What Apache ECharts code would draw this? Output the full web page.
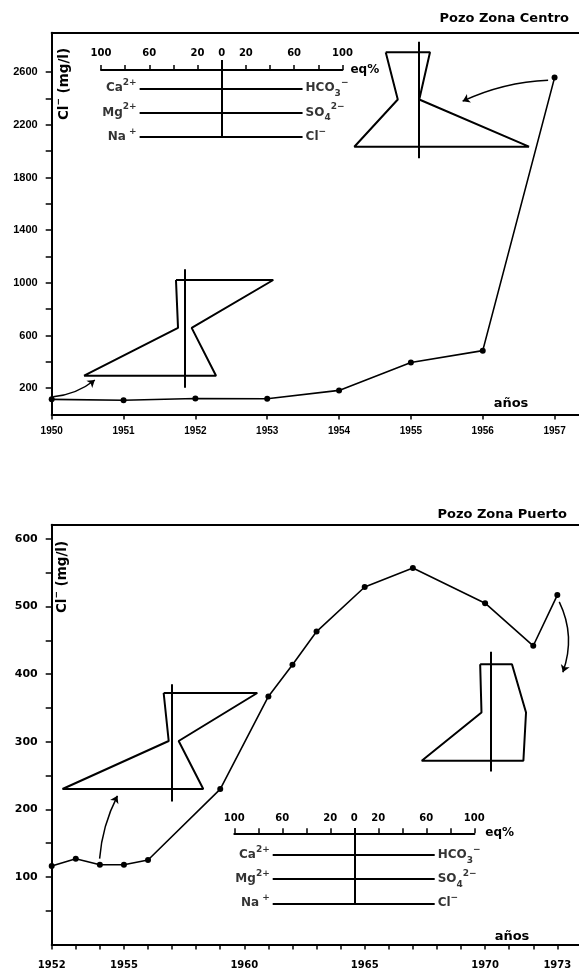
<!DOCTYPE html>
<html>
<head>
<meta charset="utf-8">
<script src="https://cdn.jsdelivr.net/npm/echarts@6/dist/echarts.min.js"></script>
<style>
html,body{margin:0;padding:0;background:#fff;}
#chart{width:579px;height:971px;}
</style>
</head>
<body>
<div id="chart"></div>
<script>
// ---------- data ----------
const centroYears = [1950, 1951, 1952, 1953, 1954, 1955, 1956, 1957];
const centroCl = [115, 108, 121, 120, 183, 395, 485, 2559];
const puertoYears = [1952, 1953, 1954, 1955, 1956, 1959, 1961, 1962, 1963, 1965, 1967, 1970, 1972, 1973];
const puertoCl = [116, 127, 118, 118, 125, 230, 367, 414, 463, 529, 557, 505, 442, 517];

const centroXTicks = [1950, 1951, 1952, 1953, 1954, 1955, 1956, 1957];
const centroYTicks = [200, 400, 600, 800, 1000, 1200, 1400, 1600, 1800, 2000, 2200, 2400, 2600];
const centroYLabels = [200, 600, 1000, 1400, 1800, 2200, 2600];
const puertoXTicks = [1952, 1953, 1954, 1955, 1956, 1957, 1958, 1959, 1960, 1961, 1962, 1963, 1964, 1965, 1966, 1967, 1968, 1969, 1970, 1971, 1972, 1973];
const puertoXLabels = [1952, 1955, 1960, 1965, 1970, 1973];
const puertoYTicks = [50, 100, 150, 200, 250, 300, 350, 400, 450, 500, 550, 600];
const puertoYLabels = [100, 200, 300, 400, 500, 600];
const eqLabels = [-100, -60, -20, 0, 20, 60, 100];

// Stiff diagrams (eq %): cations Ca, Mg, Na ; anions HCO3, SO4, Cl
const stiffCentroA_cat = [27, 17, 53];      // upper-right diagram (1957)
const stiffCentroA_an = [9.7, 0.8, 91.7];
const stiffCentroB_cat = [6.9, 5.2, 83];    // lower-left diagram (1950)
const stiffCentroB_an = [73.7, 6.1, 26.3];
const stiffPuertoA_cat = [6.7, 2.5, 91];    // left diagram (1954)
const stiffPuertoA_an = [71.3, 5.8, 26.3];
const stiffPuertoB_cat = [12.5, 11, 79];    // right diagram (1973)
const stiffPuertoB_an = [23.7, 39.7, 36.7];

const cationLabels = ['{m|Ca}{sup|2+}', '{m|Mg}{sup|2+}', '{m|Na}{sup| +}'];
const anionLabels = ['{m|HCO}{sub|3}{sup|−}', '{m|SO}{sub|4}{sup|2−}', '{m|Cl}{sup|−}'];
const legendRowExtent = [-68, 67];

// arrows [from, to, curveness] in data units of each panel
const centroArrows = [
  [[1956.91, 2539], [1955.72, 2380], -0.1],
  [[1950.02, 135], [1950.60, 262], -0.15]
];
const puertoArrows = [
  [[1953.99, 127], [1954.73, 220], 0.1],
  [[1973.08, 507], [1973.23, 403], 0.21]
];

// ---------- helpers ----------
const FONT = 'DejaVu Sans';
const BLACK = '#000';

function stiffPolygon(cat, an) {
  return [[-cat[0], 1], [an[0], 1], [an[1], 2], [an[2], 3], [-cat[2], 3], [-cat[1], 2], [-cat[0], 1]];
}
const ionRich = {
  m: {fontSize: 12, fontWeight: 'bold', fontFamily: FONT, color: BLACK, lineHeight: 20, verticalAlign: 'middle'},
  sup: {fontSize: 9, fontWeight: 'bold', fontFamily: FONT, color: BLACK, lineHeight: 10, verticalAlign: 'top'},
  sub: {fontSize: 9, fontWeight: 'bold', fontFamily: FONT, color: BLACK, lineHeight: 10, verticalAlign: 'bottom'}
};

const grids = [
  {left: 51.7, top: 32.7, width: 527.3, height: 381.8},   // 0 centro main
  {left: 101, top: 70, width: 241.4, height: 66.7},       // 1 centro legend
  {left: 297.6, top: 52.3, width: 241.4, height: 94.4},   // 2 stiff centro A
  {left: 63.6, top: 280, width: 241.4, height: 95.7},     // 3 stiff centro B
  {left: 51.7, top: 524.8, width: 527.3, height: 419.7},  // 4 puerto main
  {left: 234.3, top: 833.3, width: 240, height: 70},      // 5 puerto legend
  {left: 51.7, top: 693, width: 240, height: 96},         // 6 stiff puerto A
  {left: 403.3, top: 664.3, width: 240, height: 96.5}     // 7 stiff puerto B
];

function mainX(grid, min, max, ticks, labels, fontFamily, fontSize, margin) {
  return {
    type: 'value', gridIndex: grid, min: min, max: max, interval: 1, position: 'bottom',
    axisLine: {show: true, onZero: false, lineStyle: {color: BLACK, width: 2}},
    axisTick: {show: true, length: 5, customValues: ticks, lineStyle: {color: BLACK, width: 1.5}},
    axisLabel: {show: true, customValues: labels, margin: margin, color: BLACK, fontFamily: fontFamily,
      fontWeight: 'bold', fontSize: fontSize, formatter: v => String(Math.round(v))},
    splitLine: {show: false}
  };
}
function borderX(grid, min, max) {
  return {type: 'value', gridIndex: grid, min: min, max: max, position: 'top',
    axisLine: {show: true, onZero: false, lineStyle: {color: BLACK, width: 2}},
    axisTick: {show: false}, axisLabel: {show: false}, splitLine: {show: false}};
}
function mainY(grid, max, interval, ticks, labels, fontFamily, fontSize) {
  return {
    type: 'value', gridIndex: grid, min: 0, max: max, interval: interval,
    axisLine: {show: true, onZero: false, lineStyle: {color: BLACK, width: 2}},
    axisTick: {show: true, length: 6, customValues: ticks, lineStyle: {color: BLACK, width: 1.5}},
    axisLabel: {show: true, customValues: labels, margin: 14, color: BLACK, fontFamily: fontFamily,
      fontWeight: 'bold', fontSize: fontSize, formatter: v => String(Math.round(v))},
    splitLine: {show: false}
  };
}
function legendX(grid, margin, nameGap) {
  return {
    type: 'value', gridIndex: grid, min: -100, max: 100, interval: 20, position: 'top',
    axisLine: {show: true, onZero: false, lineStyle: {color: BLACK, width: 2}},
    axisTick: {show: true, length: 5, lineStyle: {color: BLACK, width: 1.5}},
    axisLabel: {show: true, customValues: eqLabels, margin: margin, color: BLACK, fontFamily: FONT,
      fontWeight: 'bold', fontSize: 10, formatter: v => String(Math.abs(v))},
    splitLine: {show: false},
    name: 'eq%', nameLocation: 'end', nameGap: nameGap,
    nameTextStyle: {color: BLACK, fontFamily: FONT, fontWeight: 'bold', fontSize: 12, padding: [0, 0, 9, 0]}
  };
}
function hiddenX(grid) { return {type: 'value', gridIndex: grid, min: -100, max: 100, show: false}; }
function hiddenY(grid, min) { return {type: 'value', gridIndex: grid, min: min, max: 3, inverse: true, show: false}; }

const xAxes = [
  mainX(0, 1950, 1957.34, centroXTicks, centroXTicks, 'Liberation Sans', 10, 12), // 0
  borderX(0, 1950, 1957.34),                                                      // 1
  legendX(1, 12, 8),                                                              // 2
  hiddenX(2),                                                                     // 3
  hiddenX(3),                                                                     // 4
  mainX(4, 1952, 1973.9, puertoXTicks, puertoXLabels, FONT, 10, 16),              // 5
  borderX(4, 1952, 1973.9),                                                       // 6
  legendX(5, 10, 11),                                                             // 7
  hiddenX(6),                                                                     // 8
  hiddenX(7)                                                                      // 9
];
const yAxes = [
  mainY(0, 2900, 200, centroYTicks, centroYLabels, 'Liberation Sans', 11), // 0
  hiddenY(1, 0.244),                                                         // 1
  hiddenY(2, 1),                                                             // 2
  hiddenY(3, 1),                                                             // 3
  mainY(4, 621, 50, puertoYTicks, puertoYLabels, FONT, 11),                  // 4
  hiddenY(5, 0.1),                                                           // 5
  hiddenY(6, 1),                                                             // 6
  hiddenY(7, 1)                                                              // 7
];

const series = [];
function dataLine(xi, yi, xs, ys) {
  series.push({type: 'line', xAxisIndex: xi, yAxisIndex: yi, data: xs.map((x, i) => [x, ys[i]]),
    symbol: 'circle', symbolSize: 6, showSymbol: true, itemStyle: {color: BLACK},
    lineStyle: {color: BLACK, width: 1.6}, clip: false, z: 5});
}
function stiff(xi, yi, cat, an, zeroExt) {
  series.push({type: 'line', xAxisIndex: xi, yAxisIndex: yi, data: stiffPolygon(cat, an),
    symbol: 'none', lineStyle: {color: BLACK, width: 2}, clip: false});
  series.push({type: 'lines', coordinateSystem: 'cartesian2d', xAxisIndex: xi, yAxisIndex: yi, clip: false,
    lineStyle: {color: BLACK, width: 2, opacity: 1}, data: [{coords: [[0, zeroExt[0]], [0, zeroExt[1]]]}]});
}
function legendBlock(xi, yi, zeroTop) {
  const rows = [1, 2, 3].map(r => ({coords: [[legendRowExtent[0], r], [legendRowExtent[1], r]]}));
  rows.push({coords: [[0, zeroTop], [0, 3]]});
  series.push({type: 'lines', coordinateSystem: 'cartesian2d', xAxisIndex: xi, yAxisIndex: yi, clip: false,
    lineStyle: {color: BLACK, width: 2, opacity: 1}, data: rows});
  const pts = [];
  [1, 2, 3].forEach((r, i) => {
    pts.push({value: [legendRowExtent[0], r], label: {formatter: cationLabels[i], position: 'left', distance: 3}});
    pts.push({value: [legendRowExtent[1], r], label: {formatter: anionLabels[i], position: 'right', distance: 3}});
  });
  series.push({type: 'scatter', xAxisIndex: xi, yAxisIndex: yi, symbolSize: 0, clip: false,
    label: {show: true, rich: ionRich}, data: pts});
}
function arrows(xi, yi, list) {
  list.forEach(a => {
    series.push({type: 'lines', coordinateSystem: 'cartesian2d', xAxisIndex: xi, yAxisIndex: yi, clip: false,
      symbol: ['none', 'arrow'], symbolSize: 7,
      lineStyle: {color: BLACK, width: 1.5, opacity: 1, curveness: a[2]},
      data: [{coords: [a[0], a[1]]}]});
  });
}

dataLine(0, 0, centroYears, centroCl);
legendBlock(2, 1, -0.17);
stiff(3, 2, stiffCentroA_cat, stiffCentroA_an, [0.775, 3.246]);
stiff(4, 3, stiffCentroB_cat, stiffCentroB_an, [0.776, 3.25]);
arrows(0, 0, centroArrows);

dataLine(5, 4, puertoYears, puertoCl);
legendBlock(7, 5, -0.12);
stiff(8, 6, stiffPuertoA_cat, stiffPuertoA_an, [0.82, 3.26]);
stiff(9, 7, stiffPuertoB_cat, stiffPuertoB_an, [0.74, 3.22]);
arrows(5, 4, puertoArrows);

const nameRich = {
  m: {fontSize: 13.5, fontWeight: 'bold', fontFamily: FONT, fill: BLACK, lineHeight: 20, verticalAlign: 'middle'},
  sup: {fontSize: 9, fontWeight: 'bold', fontFamily: FONT, fill: BLACK, lineHeight: 10, verticalAlign: 'top'}
};
function txt(x, y, text, size, align, rotation) {
  return {type: 'text', x: x, y: y, rotation: rotation || 0, z: 10,
    style: {text: text, fontFamily: FONT, fontWeight: 'bold', fontSize: size, fill: BLACK,
      align: align, verticalAlign: 'middle', rich: nameRich}};
}

const option = {
  animation: false,
  backgroundColor: '#fff',
  grid: grids,
  xAxis: xAxes,
  yAxis: yAxes,
  series: series,
  graphic: [
    txt(569, 19, 'Pozo Zona Centro', 13, 'right'),
    txt(567, 515, 'Pozo Zona Puerto', 13, 'right'),
    txt(511, 404, 'años', 13, 'center'),
    txt(512, 937, 'años', 13, 'center'),
    txt(64, 84, '{m|Cl}{sup|−} {m|(mg/l)}', 13, 'center', Math.PI / 2),
    txt(62, 577, '{m|Cl}{sup|−} {m|(mg/l)}', 13, 'center', Math.PI / 2)
  ]
};

const chart = echarts.init(document.getElementById('chart'), null, {renderer: 'canvas'});
chart.setOption(option);
</script>
</body>
</html>
